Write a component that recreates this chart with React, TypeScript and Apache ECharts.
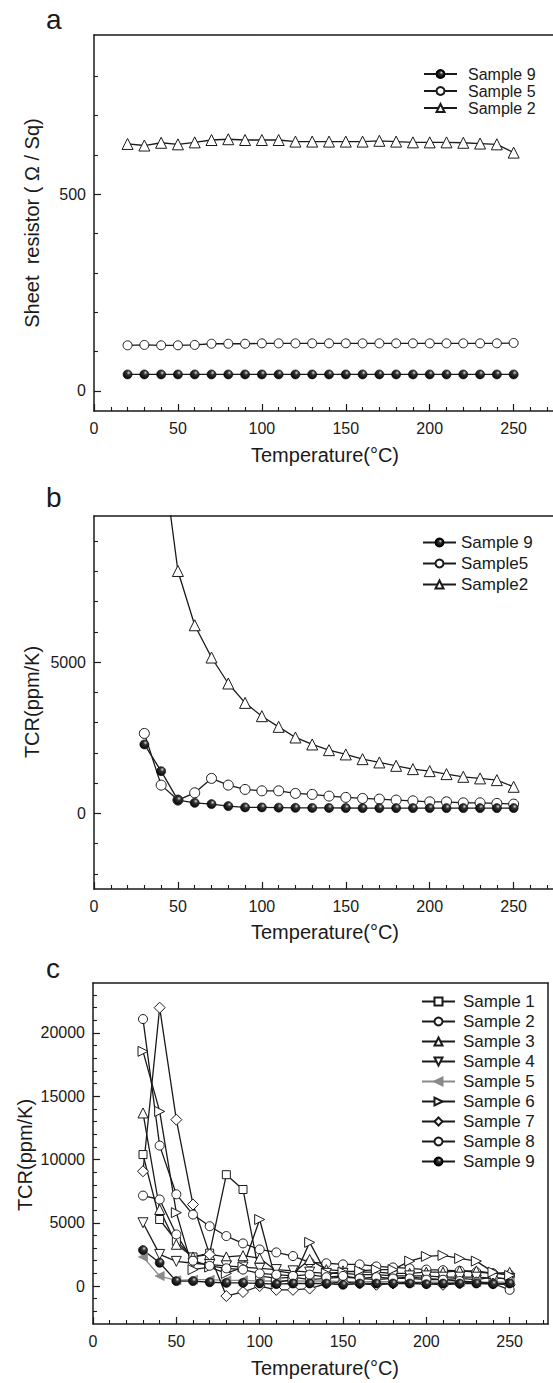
import React, { useEffect, useRef } from "react";
import * as echarts from "echarts";

// ---------- data ----------
const tempA = [20, 30, 40, 50, 60, 70, 80, 90, 100, 110, 120, 130, 140, 150, 160, 170, 180, 190, 200, 210, 220, 230, 240, 250];
const tempBC = [30, 40, 50, 60, 70, 80, 90, 100, 110, 120, 130, 140, 150, 160, 170, 180, 190, 200, 210, 220, 230, 240, 250];

// panel a: sheet resistor (Ω/Sq)
const aSample9 = [42, 42, 42, 42, 42, 42, 42, 42, 42, 42, 42, 42, 42, 42, 42, 42, 42, 42, 42, 42, 42, 42, 42, 42];
const aSample5 = [116, 117, 116, 116, 117, 120, 120, 120, 121, 121, 121, 121, 121, 121, 121, 121, 121, 121, 121, 121, 121, 121, 121, 122];
const aSample2 = [628, 624, 631, 627, 632, 638, 640, 638, 638, 638, 634, 634, 634, 634, 634, 636, 634, 632, 632, 632, 631, 629, 627, 606];

// panel b: TCR (ppm/K)
const bSample9 = [2280, 1398, 440, 350, 307, 241, 198, 198, 190, 185, 180, 180, 178, 175, 175, 175, 175, 175, 175, 175, 175, 175, 175];
const bSample5 = [2644, 935, 440, 681, 1157, 935, 793, 747, 747, 661, 628, 572, 529, 496, 473, 440, 416, 383, 383, 350, 350, 330, 307];
const bSample2 = [18000, 12250, 8017, 6222, 5155, 4296, 3655, 3215, 2862, 2511, 2280, 2092, 1950, 1794, 1685, 1573, 1464, 1398, 1299, 1210, 1157, 1100, 880];

// panel c: TCR (ppm/K)
const cSample1 = [10390, 5260, 3550, 2300, 2600, 8800, 7630, 800, 600, 700, 500, 600, 700, 600, 500, 600, 700, 600, 500, 600, 500, 700, 500];
const cSample2 = [21100, 11100, 7250, 5650, 4730, 3950, 3370, 2890, 2660, 2370, 1870, 1800, 1710, 1710, 1550, 1470, 1400, 1300, 1250, 1200, 1100, 1000, 900];
const cSample3 = [13680, 6050, 3300, 2300, 2500, 2300, 2400, 2200, 1200, 1000, 2100, 1300, 1200, 1100, 1100, 1000, 1000, 1100, 1100, 1200, 1200, 1000, 1080];
const cSample4 = [5000, 2500, 1950, 1800, 1700, 1600, 1500, 1400, 1300, 1200, 1100, 1000, 1000, 900, 900, 800, 800, 800, 700, 700, 700, 600, 600];
const cSample5 = [2300, 790, 450, 500, 500, 450, 450, 400, 400, 400, 400, 400, 350, 350, 350, 350, 300, 300, 300, 300, 300, 300, 300];
const cSample6 = [18550, 13800, 5800, 1300, 1500, 1000, 1500, 5260, 300, 500, 3450, 1000, 1100, 1200, 1300, 1300, 1970, 2340, 2420, 2180, 1970, 1100, 840];
const cSample7 = [9070, 22000, 13150, 6440, 2500, -790, -470, 0, -300, -300, -200, 200, 300, 200, 100, 200, 300, 200, 100, 200, 300, 200, 100];
const cSample8 = [7150, 6840, 4080, 2000, 1600, 1400, 1300, 1000, 900, 800, 900, 700, 800, 600, 700, 600, 600, 500, 500, 400, 300, 200, -300];
const cSample9 = [2840, 1840, 390, 390, 300, 250, 250, 200, 150, 200, 200, 200, 100, 200, 200, 200, 200, 150, 200, 200, 200, 150, 200];

// tick labels
const xLabels = [0, 50, 100, 150, 200, 250];
const aYLabels = [0, 500];
const bYLabels = [0, 5000];
const cYLabels = [0, 5000, 10000, 15000, 20000];

// ---------- styling ----------
const INK = "#1a1a1a";
const FONT = 'Arial, "Liberation Sans", Helvetica, sans-serif';

const minorRange = (lo: number, hi: number, step: number, major: number) => {
  const out: number[] = [];
  for (let v = lo; v <= hi; v += step) if (v % major !== 0) out.push(v);
  return out;
};

const pairs = (xs: number[], ys: number[]) => xs.map((x, i) => [x, ys[i]]);

const ball = () =>
  new echarts.graphic.RadialGradient(0.62, 0.32, 0.75, [
    { offset: 0, color: "#d8d8d8" },
    { offset: 0.3, color: "#333" },
    { offset: 1, color: "#000" },
  ]);

const plain = (v: number) => String(v);

function mainX(gridIndex: number, max: number) {
  return {
    type: "value",
    gridIndex,
    position: "bottom",
    min: 0,
    max,
    axisLine: { show: true, onZero: false, lineStyle: { color: INK, width: 1.5 } },
    axisTick: { show: true, inside: true, length: 7, customValues: xLabels, lineStyle: { color: INK, width: 1.2 } },
    axisLabel: { show: true, customValues: xLabels, formatter: plain, margin: 9, fontSize: 16, color: INK, fontFamily: FONT },
    splitLine: { show: false },
  };
}
function minorX(gridIndex: number, max: number) {
  return {
    type: "value",
    gridIndex,
    position: "bottom",
    min: 0,
    max,
    axisLine: { show: false, onZero: false },
    axisTick: { show: true, inside: true, length: 4, customValues: minorRange(10, 270, 10, 50), lineStyle: { color: INK, width: 1.1 } },
    axisLabel: { show: false },
    splitLine: { show: false },
  };
}
function frameX(gridIndex: number, max: number) {
  return {
    type: "value",
    gridIndex,
    position: "top",
    min: 0,
    max,
    axisLine: { show: true, onZero: false, lineStyle: { color: INK, width: 1.5 } },
    axisTick: { show: false },
    axisLabel: { show: false },
    splitLine: { show: false },
  };
}
function mainY(gridIndex: number, min: number, max: number, labels: number[]) {
  return {
    type: "value",
    gridIndex,
    position: "left",
    min,
    max,
    axisLine: { show: true, onZero: false, lineStyle: { color: INK, width: 1.5 } },
    axisTick: { show: true, inside: true, length: 7, customValues: labels, lineStyle: { color: INK, width: 1.2 } },
    axisLabel: { show: true, customValues: labels, formatter: plain, margin: 8, fontSize: 16, color: INK, fontFamily: FONT },
    splitLine: { show: false },
  };
}
function minorY(gridIndex: number, min: number, max: number, minors: number[]) {
  return {
    type: "value",
    gridIndex,
    position: "left",
    min,
    max,
    axisLine: { show: false, onZero: false },
    axisTick: { show: true, inside: true, length: 4, customValues: minors, lineStyle: { color: INK, width: 1.1 } },
    axisLabel: { show: false },
    splitLine: { show: false },
  };
}
function frameY(gridIndex: number, min: number, max: number) {
  return {
    type: "value",
    gridIndex,
    position: "right",
    min,
    max,
    axisLine: { show: true, onZero: false, lineStyle: { color: INK, width: 1.5 } },
    axisTick: { show: false },
    axisLabel: { show: false },
    splitLine: { show: false },
  };
}

type Mk = { symbol: string; rotate?: number; filled?: "ball" | "gray"; size?: number; gray?: boolean };

function series(name: string, axis: number, xs: number[], ys: number[], mk: Mk) {
  const lineColor = mk.gray ? "#8a8a8a" : INK;
  let itemStyle: any;
  if (mk.filled === "ball") itemStyle = { color: ball(), borderColor: "#000", borderWidth: 0.6 };
  else if (mk.filled === "gray") itemStyle = { color: "#8a8a8a", borderColor: "#8a8a8a", borderWidth: 0.8 };
  else itemStyle = { color: "#ffffff", borderColor: INK, borderWidth: 1 };
  return {
    name,
    type: "line",
    xAxisIndex: axis,
    yAxisIndex: axis,
    data: pairs(xs, ys),
    symbol: mk.symbol,
    symbolSize: mk.size ?? 9,
    symbolRotate: mk.rotate ?? 0,
    showSymbol: true,
    showAllSymbol: true,
    clip: true,
    lineStyle: { color: lineColor, width: 1.3 },
    itemStyle,
    emphasis: { disabled: true },
    animation: false,
  };
}

function legend(left: number, top: number, gap: number, names: string[], fontSize: number, padLeft: number) {
  return {
    orient: "vertical",
    left,
    top,
    padding: 0,
    itemWidth: 33,
    itemHeight: 10,
    itemGap: gap,
    selectedMode: false,
    data: names,
    formatter: (n: string) => n.split(":")[1],
    textStyle: { fontSize, color: INK, fontFamily: FONT, padding: [0, 0, 0, padLeft] },
  };
}

function text(x: number, y: number, t: string, size: number, rotate = 0, align = "center") {
  return {
    type: "text",
    x,
    y,
    rotation: rotate,
    silent: true,
    style: {
      text: t,
      fill: INK,
      font: `${size}px ${FONT}`,
      textAlign: align,
      textVerticalAlign: "middle",
    },
  };
}

export default function App() {
  const ref = useRef<HTMLDivElement>(null);
  useEffect(() => {
    if (!ref.current) return;
    const chart = echarts.init(ref.current, null, { renderer: "svg" });
    const gridStyle = { show: false, containLabel: false, outerBoundsMode: "none" };
    const option: any = {
      animation: false,
      backgroundColor: "#ffffff",
      grid: [
        { left: 94, top: 35, width: 470, height: 376, ...gridStyle },
        { left: 94, top: 516, width: 470, height: 373, ...gridStyle },
        { left: 93, top: 983, width: 455, height: 341, ...gridStyle },
      ],
      xAxis: [
        mainX(0, 280), minorX(0, 280),
        mainX(1, 280), minorX(1, 280),
        mainX(2, 273), minorX(2, 273),
        frameX(0, 280), frameX(1, 280), frameX(2, 273),
      ],
      yAxis: [
        mainY(0, -51, 905, aYLabels),
        minorY(0, -51, 905, minorRange(100, 800, 100, 500)),
        mainY(1, -2500, 9835, bYLabels),
        minorY(1, -2500, 9835, minorRange(-2000, 9000, 1000, 5000)),
        mainY(2, -3000, 23950, cYLabels),
        minorY(2, -3000, 23950, minorRange(-2000, 23000, 1000, 5000)),
        frameY(2, -3000, 23950),
      ],
      legend: [
        legend(423, 66, 1, ["a:Sample 9", "a:Sample 5", "a:Sample 2"], 16, 6),
        legend(422, 534, 4, ["b:Sample 9", "b:Sample5", "b:Sample2"], 17, 0),
        legend(421, 993, 3, [
          "c:Sample 1", "c:Sample 2", "c:Sample 3", "c:Sample 4", "c:Sample 5",
          "c:Sample 6", "c:Sample 7", "c:Sample 8", "c:Sample 9",
        ], 17, 3),
      ],
      series: [
        series("a:Sample 2", 0, tempA, aSample2, { symbol: "triangle", size: 11 }),
        series("a:Sample 5", 0, tempA, aSample5, { symbol: "circle" }),
        series("a:Sample 9", 0, tempA, aSample9, { symbol: "circle", filled: "ball" }),

        series("b:Sample2", 2, tempBC, bSample2, { symbol: "triangle", size: 11 }),
        series("b:Sample5", 2, tempBC, bSample5, { symbol: "circle", size: 10 }),
        series("b:Sample 9", 2, tempBC, bSample9, { symbol: "circle", filled: "ball" }),

        series("c:Sample 1", 4, tempBC, cSample1, { symbol: "rect", size: 8 }),
        series("c:Sample 2", 4, tempBC, cSample2, { symbol: "circle", size: 9 }),
        series("c:Sample 3", 4, tempBC, cSample3, { symbol: "triangle", size: 10 }),
        series("c:Sample 4", 4, tempBC, cSample4, { symbol: "triangle", size: 10, rotate: 180 }),
        series("c:Sample 5", 4, tempBC, cSample5, { symbol: "triangle", size: 9, rotate: 90, filled: "gray", gray: true }),
        series("c:Sample 6", 4, tempBC, cSample6, { symbol: "triangle", size: 10, rotate: -90 }),
        series("c:Sample 7", 4, tempBC, cSample7, { symbol: "diamond", size: 11 }),
        series("c:Sample 8", 4, tempBC, cSample8, { symbol: "circle", size: 9 }),
        series("c:Sample 9", 4, tempBC, cSample9, { symbol: "circle", filled: "ball" }),
      ],
      graphic: [
        text(46, 19, "a", 28, 0, "left"),
        text(46, 497, "b", 28, 0, "left"),
        text(46, 968, "c", 28, 0, "left"),
        text(325, 455, "Temperature(°C)", 20),
        text(325, 932, "Temperature(°C)", 20),
        text(325, 1368, "Temperature(°C)", 20),
        text(32, 223, "Sheet  resistor ( Ω / Sq)", 20, Math.PI / 2),
        text(32, 702, "TCR(ppm/K)", 20, Math.PI / 2),
        text(25, 1155, "TCR(ppm/K)", 20, Math.PI / 2),
      ],
    };
    chart.setOption(option);
    return () => chart.dispose();
  }, []);
  return (
    <div style={{ position: "absolute", left: 0, top: 0, width: 553, height: 1383, background: "#fff" }}>
      <div ref={ref} style={{ width: 553, height: 1383 }} />
    </div>
  );
}
